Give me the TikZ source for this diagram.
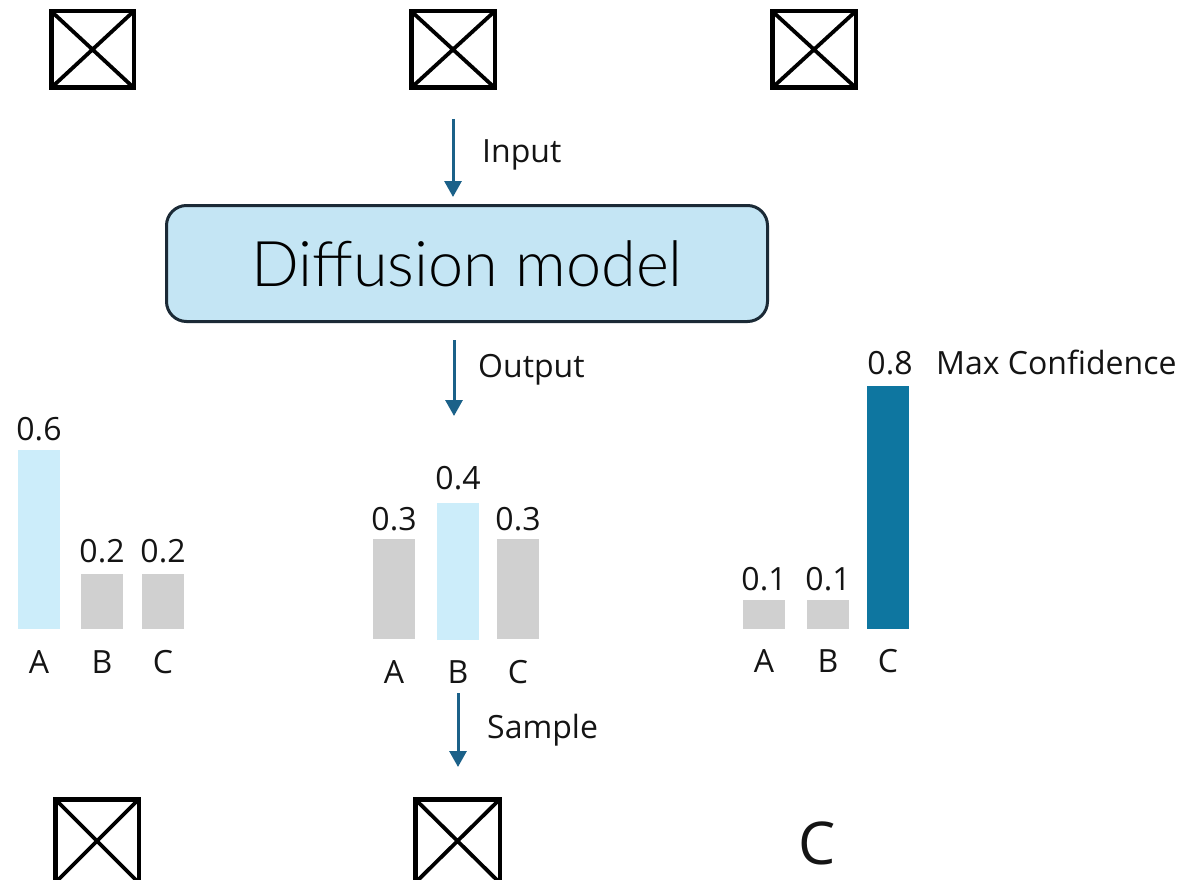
\documentclass[tikz,border=0pt]{standalone}
\usepackage{fontspec}
\setmainfont{Open Sans}
\newfontfamily\thinfont{Lato Light}
\usetikzlibrary{arrows.meta}
\definecolor{ink}{HTML}{141414}
\definecolor{flowblue}{HTML}{1B6189}
\definecolor{modelfill}{HTML}{C4E5F4}
\definecolor{modelline}{HTML}{1B2A36}
\definecolor{lightbar}{HTML}{CCEDFA}
\definecolor{graybar}{HTML}{D0D0D0}
\definecolor{darkbar}{HTML}{0E76A0}

\begin{document}
\begin{tikzpicture}[x=1pt,y=-1pt,
  imgbox/.style={draw=black, line width=4.5pt, inner sep=0pt, outer sep=0pt,
    path picture={\draw[line width=3.8pt]
      (path picture bounding box.north west) -- (path picture bounding box.south east)
      (path picture bounding box.south west) -- (path picture bounding box.north east);}},
  model/.style={draw=modelline, fill=modelfill, line width=3pt, rounded corners=20pt,
    minimum width=601pt, minimum height=116pt, inner sep=0pt,
    font=\thinfont\fontsize{63}{63}\selectfont, text=black},
  flow/.style={draw=flowblue, line width=3pt, -{Triangle[length=16pt,width=17pt]}},
  lbl/.style={font=\fontsize{32}{32}\selectfont, text=ink, inner sep=0pt, anchor=base},
  flowlbl/.style={lbl, anchor=base west},
  bar/.style={minimum width=42pt, inner sep=0pt, outer sep=0pt, anchor=south},
]
\clip (0,0) rectangle (1186,880);

% input images
\node[imgbox, minimum width=82.5pt, minimum height=76.5pt] (in1) at (92.5,49.5) {};
\node[imgbox, minimum width=83.5pt, minimum height=76.5pt] (in2) at (453,49.5) {};
\node[imgbox, minimum width=83.5pt, minimum height=76.5pt] (in3) at (814,49.5) {};

% model
\node[model] (dm) at (467,263.5) {Diffusion model};

% input arrow
\coordinate (inS) at (453,119);
\coordinate (inE) at (453,197);
\draw[flow] (inS) -- (inE);
\node[flowlbl] (inL) at (482,162) {Input};

% output arrow
\coordinate (outS) at (454,340);
\coordinate (outE) at (454,416);
\draw[flow] (outS) -- (outE);
\node[flowlbl] (outL) at (478,377) {Output};

% left distribution
\node[bar, fill=lightbar, minimum height=179pt] (lA) at (39,629) {};
\node[bar, fill=graybar, minimum height=55pt] (lB) at (102,629) {};
\node[bar, fill=graybar, minimum height=55pt] (lC) at (163,629) {};
\node[lbl] (lAv) at (39,440) {0.6};
\node[lbl] (lBv) at (102,562) {0.2};
\node[lbl] (lCv) at (163,562) {0.2};
\node[lbl] (lAt) at (39,673) {A};
\node[lbl] (lBt) at (102,673) {B};
\node[lbl] (lCt) at (163,673) {C};

% middle distribution
\node[bar, fill=graybar, minimum height=100pt] (mA) at (394,639) {};
\node[bar, fill=lightbar, minimum height=137pt] (mB) at (458,640) {};
\node[bar, fill=graybar, minimum height=100pt] (mC) at (518,639) {};
\node[lbl] (mAv) at (394,530) {0.3};
\node[lbl] (mBv) at (458,489) {0.4};
\node[lbl] (mCv) at (518,530) {0.3};
\node[lbl] (mAt) at (394,683) {A};
\node[lbl] (mBt) at (458,683) {B};
\node[lbl] (mCt) at (518,683) {C};

% right distribution
\node[bar, fill=graybar, minimum height=29pt] (rA) at (764,629) {};
\node[bar, fill=graybar, minimum height=29pt] (rB) at (828,629) {};
\node[bar, fill=darkbar, minimum height=243pt] (rC) at (888,629) {};
\node[lbl] (rAv) at (764,590) {0.1};
\node[lbl] (rBv) at (828,590) {0.1};
\node[lbl] (rCv) at (890,374) {0.8};
\node[flowlbl] (maxL) at (936,374) {Max Confidence};
\node[lbl] (rAt) at (764,672) {A};
\node[lbl] (rBt) at (828,672) {B};
\node[lbl] (rCt) at (888,672) {C};

% sample arrow
\coordinate (smS) at (458,693);
\coordinate (smE) at (458,767);
\draw[flow] (smS) -- (smE);
\node[flowlbl] (smL) at (487,738) {Sample};

% sampled outputs
\node[imgbox, minimum width=83.5pt, minimum height=83.5pt] (out1) at (97,841) {};
\node[imgbox, minimum width=84.5pt, minimum height=83.5pt] (out2) at (457.5,841) {};
\node[lbl, font=\fontsize{59}{59}\selectfont] (out3) at (817,864) {C};
\end{tikzpicture}
\end{document}
